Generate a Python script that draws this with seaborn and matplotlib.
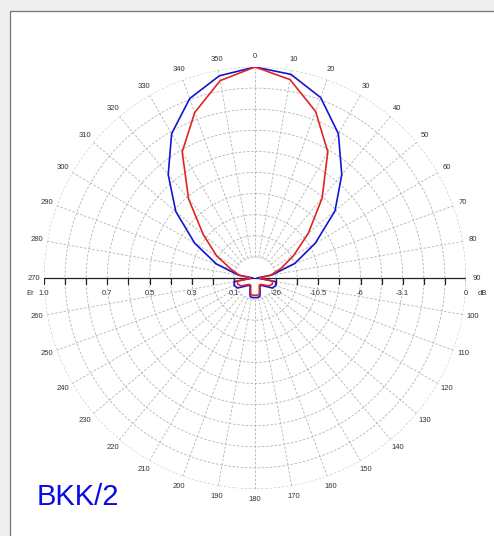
import numpy as np
import pandas as pd
import matplotlib
matplotlib.use("Agg")
import matplotlib.pyplot as plt
from matplotlib.patches import Rectangle
import seaborn as sns

# pattern values (field strength Er, 0..1)
angles = [0, 10, 20, 30, 40, 50, 60, 70, 80, 90, 100, 110, 120, 130, 140, 150,
          160, 165, 170, 175, 180, 185, 190, 195, 200, 210, 220, 230, 240, 250,
          260, 270, 280, 290, 300, 310, 320, 330, 340, 350, 360]
blue_er = [1.0, 0.98, 0.91, 0.79, 0.64, 0.495, 0.33, 0.20, 0.08, 0.01, 0.10, 0.105,
           0.095, 0.06, 0.045, 0.046, 0.07, 0.09, 0.093, 0.093, 0.093, 0.093, 0.093,
           0.09, 0.07, 0.046, 0.045, 0.06, 0.095, 0.105, 0.10, 0.01, 0.08, 0.195,
           0.33, 0.49, 0.64, 0.79, 0.905, 0.973, 1.0]
red_er = [1.0, 0.955, 0.84, 0.69, 0.495, 0.33, 0.21, 0.13, 0.075, 0.02, 0.085, 0.087,
          0.075, 0.05, 0.04, 0.04, 0.06, 0.078, 0.082, 0.082, 0.082, 0.082, 0.082,
          0.078, 0.06, 0.04, 0.04, 0.05, 0.075, 0.087, 0.085, 0.02, 0.075, 0.12,
          0.21, 0.32, 0.49, 0.69, 0.835, 0.95, 1.0]

left_ticks = [1.0, 0.7, 0.5, 0.3, 0.1]
left_labels = ["1.0", "0.7", "0.5", "0.3", "0.1"]
right_ticks = [0.1, 0.3, 0.5, 0.7, 1.0]
right_labels = ["-20", "-10.5", "-6", "-3.1", "0"]
angle_labels = list(range(0, 360, 10))

sns.set_style("white")
plt.rcParams['font.family'] = ['Liberation Sans', 'DejaVu Sans']

W, H = 494, 536
fig = plt.figure(figsize=(W / 100, H / 100), dpi=100)
fig.patch.set_facecolor('#efefef')
fig.patches.append(Rectangle((10 / W, -0.1), 2, 1.1 - 11 / H, transform=fig.transFigure,
                             facecolor='white', edgecolor='#777777', lw=0.9, zorder=-5))

cx, cy, R = 255, 278, 211
ax = fig.add_axes([(cx - R) / W, 1 - (cy + R) / H, 2 * R / W, 2 * R / H], projection='polar')
ax.set_zorder(2)
ax.set_theta_zero_location('N')
ax.set_theta_direction(-1)
ax.set_ylim(0, 1)
ax.grid(False)
ax.set_xticks([])
ax.set_yticks([])
ax.spines['polar'].set_visible(False)
ax.patch.set_alpha(0)

grid_kw = dict(color='#b4b4b4', lw=0.6, ls=(0, (3, 2)), zorder=1)
circ = np.linspace(0, 2 * np.pi, 400)
for r in np.arange(0.1, 1.01, 0.1):
    ax.plot(circ, np.full_like(circ, r), **grid_kw)
for a in range(0, 360, 10):
    ax.plot([np.radians(a)] * 2, [0.1, 1.0], **grid_kw)

# horizontal Er / dB axis
ax.plot([np.radians(270), np.radians(270)], [1, 0], color='#222222', lw=0.9, zorder=2)
ax.plot([np.radians(90), np.radians(90)], [0, 1], color='#222222', lw=0.9, zorder=2)
for r in np.arange(0.1, 1.01, 0.1):
    for a in (90, 270):
        ax.plot([np.radians(a)], [r], marker=3, ms=4, mew=0.9, color='#222222', zorder=2)

lab_kw = dict(fontsize=5.5, color='#333333', ha='center', va='center',
              textcoords='offset points', annotation_clip=False)
for r, t in zip(left_ticks, left_labels):
    ax.annotate(t, (np.radians(270), r), xytext=(0, -11), **lab_kw)
for r, t in zip(right_ticks, right_labels):
    ax.annotate(t, (np.radians(90), r), xytext=(0, -11), **lab_kw)
ax.annotate("Er", (np.radians(270), 1.0), xytext=(-10, -11), **lab_kw)
ax.annotate("dB", (np.radians(90), 1.0), xytext=(12, -11), **lab_kw)

for a in angle_labels:
    ax.text(np.radians(a), 1.05, str(a), fontsize=5.5, color='#333333',
            ha='center', va='center', clip_on=False)

df = pd.DataFrame({
    'theta': np.radians(angles * 2),
    'er': blue_er + red_er,
    'series': ['blue'] * len(angles) + ['red'] * len(angles),
})
sns.lineplot(data=df, x='theta', y='er', hue='series', sort=False, estimator=None,
             palette={'blue': '#1414d2', 'red': '#e02424'}, lw=1.2, legend=False,
             ax=ax, zorder=3)
ax.set_xlabel('')
ax.set_ylabel('')
ax.set_ylim(0, 1)

fig.text(37 / W, 1 - 505 / H, "BKK/2", fontsize=21, color='#0a0ae6', ha='left', va='baseline')

fig.savefig('out.png', dpi=100, facecolor=fig.get_facecolor())
